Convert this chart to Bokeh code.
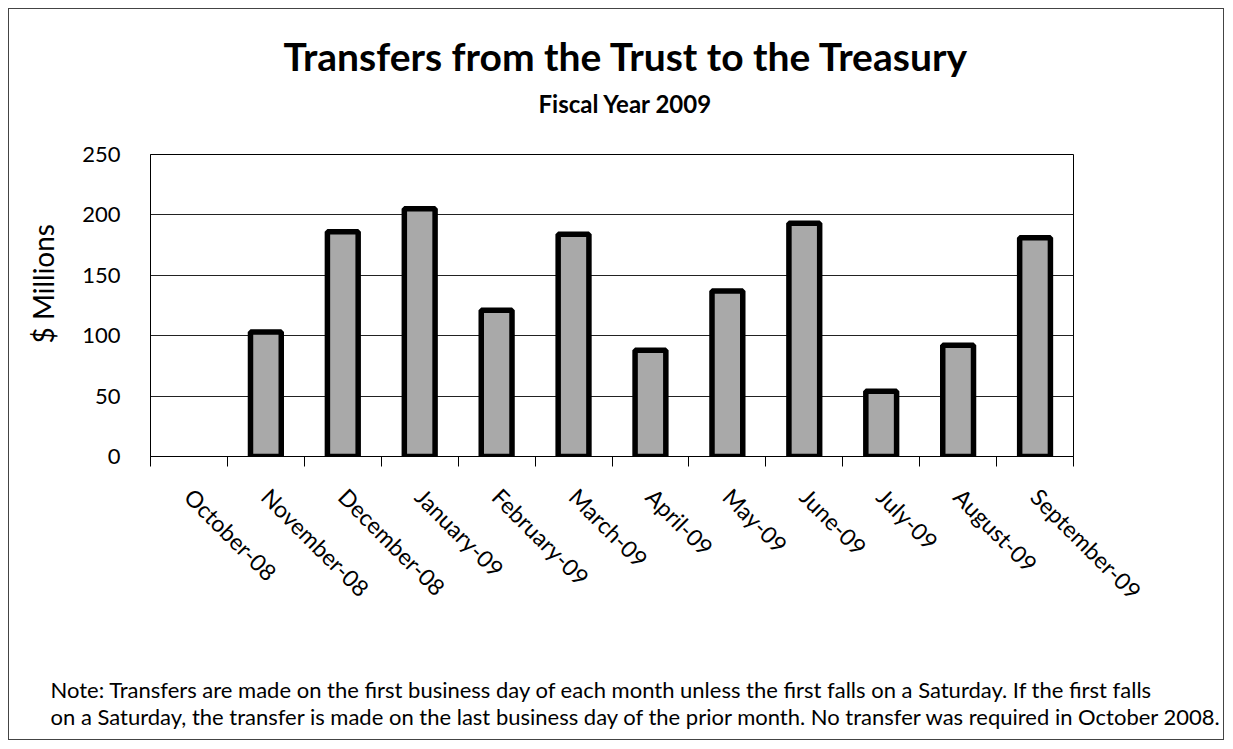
import math
from bokeh.plotting import figure
from bokeh.models import (ColumnDataSource, Range1d, FactorRange, LinearAxis, CategoricalAxis,
                          FixedTicker, Title, CDSView, BooleanFilter, CustomLabelingPolicy)
from bokeh.embed import file_html
from bokeh.resources import INLINE

# ---- data ----
months = ["October-08", "November-08", "December-08", "January-09", "February-09", "March-09",
          "April-09", "May-09", "June-09", "July-09", "August-09", "September-09"]
transfers = [0, 103, 186, 205, 121, 184, 88, 137, 193, 54, 92, 181]
y_ticks = [0, 50, 100, 150, 200, 250]

title_text = "Transfers from the Trust to the Treasury"
subtitle_text = "Fiscal Year 2009"
y_label = "$ Millions"
note_lines = [
    "Note:  Transfers are made on the first business day of  each month unless the first falls on a Saturday.  If the first falls",
    "on a Saturday, the transfer is made on the last business day of the prior month.  No transfer was required in October 2008.",
]

FONT = "Lato"
W, H = 1232, 748

source = ColumnDataSource(dict(month=months, value=transfers))
view = CDSView(filter=BooleanFilter([v > 0 for v in transfers]))

p = figure(width=W, height=H, x_range=FactorRange(*months), y_range=Range1d(0, 250),
           output_backend="svg", toolbar_location=None, x_axis_location=None,
           min_border_left=150, min_border_right=W - 1073, min_border_top=154, min_border_bottom=H - 456)
p.styles = {"outline": "1px solid #444", "outline-offset": "-9px"}
p.outline_line_color = "black"
p.outline_line_width = 1
p.background_fill_color = "white"
p.border_fill_alpha = 0

p.vbar(x="month", top="value", width=0.4, source=source, view=view,
       fill_color="#a9a9a9", line_color="black", line_width=5.5)

# y axis
p.yaxis.ticker = FixedTicker(ticks=y_ticks)
p.yaxis.major_tick_line_color = None
p.yaxis.minor_tick_line_color = None
p.yaxis.axis_line_color = "black"
p.yaxis.major_label_text_font = FONT
p.yaxis.major_label_text_font_size = "22px"
p.yaxis.major_label_text_color = "black"
p.yaxis.major_label_standoff = 24

p.ygrid.ticker = FixedTicker(ticks=y_ticks)
p.ygrid.grid_line_color = "#222222"
p.ygrid.grid_line_width = 1
p.xgrid.grid_line_color = None

# y axis title
p.add_layout(Title(text=y_label, align="left", offset=113, standoff=40,
                   text_font=FONT, text_font_size="28px", text_font_style="normal",
                   text_color="black"), "left")


def no_labels():
    return CustomLabelingPolicy(code="return []")


# x axis: ticks at category boundaries (synthetic coordinates of the factor range)
edge_axis = LinearAxis(ticker=FixedTicker(ticks=list(range(len(months) + 1))),
                       major_tick_in=0, major_tick_out=10, minor_tick_line_color=None,
                       major_label_policy=no_labels(), major_label_text_font_size="0px",
                       major_label_standoff=0,
                       axis_line_color="black", major_tick_line_color="black")
p.add_layout(edge_axis, "below")
cat_axis = CategoricalAxis(major_tick_line_color=None, minor_tick_line_color=None,
                           axis_line_color=None, major_label_orientation=-math.pi / 4,
                           major_label_text_font=FONT, major_label_text_font_size="23px",
                           major_label_text_color="black", major_label_standoff=20)
p.add_layout(cat_axis, "below")


def spacer(size):
    # an axis with one invisible tick and no labels, used only to reserve space
    return LinearAxis(ticker=FixedTicker(ticks=[0]), major_tick_in=0, major_tick_out=size,
                      major_label_policy=no_labels(), major_label_text_font_size="0px",
                      major_label_standoff=0, axis_line_color=None,
                      major_tick_line_color=None, minor_tick_line_color=None)


p.add_layout(spacer(54), "below")
p.add_layout(Title(text="\n".join(note_lines), align="left", offset=-100, standoff=4,
                   text_font=FONT, text_font_size="22px", text_font_style="normal",
                   text_line_height=1.0, text_color="black"), "below")

# titles above (first added is closest to the frame)
p.add_layout(spacer(35), "above")
p.add_layout(Title(text=subtitle_text, align="left", offset=388, standoff=4,
                   text_font=FONT, text_font_size="24px", text_font_style="bold",
                   text_color="black"), "above")
p.add_layout(Title(text=title_text, align="left", offset=133, standoff=11,
                   text_font=FONT, text_font_size="39px", text_font_style="bold",
                   text_color="black"), "above")

open("out.html", "w").write(file_html(p, INLINE))
